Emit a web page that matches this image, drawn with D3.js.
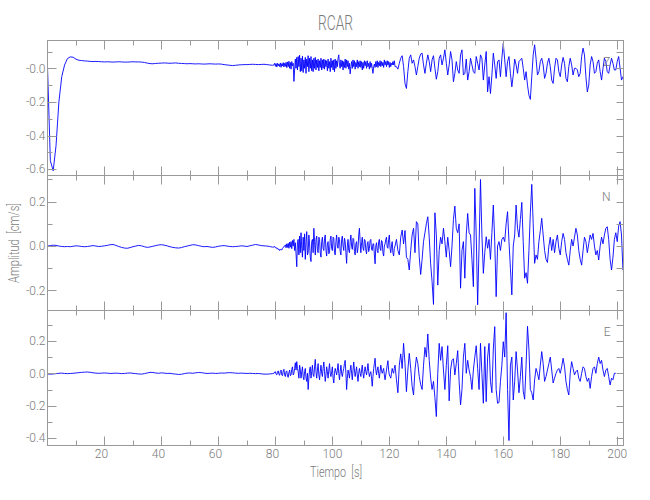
<!DOCTYPE html>
<html><head><meta charset="utf-8">
<script src="https://cdn.jsdelivr.net/npm/d3@7"></script>
<style>body{margin:0;background:#fff}</style>
</head><body><svg id="c" width="650" height="500"></svg>
<script>
const titleText = "RCAR";
const xLabelText = "Tiempo  [s]";
const yLabelText = "Amplitud  [cm/s]";
const components = ["Z", "N", "E"];
const timeDomain = [0, 202.2];
const xMajorTicks = [20, 40, 60, 80, 100, 120, 140, 160, 180, 200];
const xMinorTicks = [10, 30, 50, 70, 90, 110, 130, 150, 170, 190];
const yDomains = [[-0.638, 0.1655], [-0.2905, 0.318], [-0.4457, 0.3877]];
const yMajorTicks = [[0, -0.2, -0.4, -0.6], [0.2, 0, -0.2], [0.2, 0, -0.2, -0.4]];
const yMinorTicks = [[0.1, -0.1, -0.3, -0.5], [0.3, 0.1, -0.1], [0.3, 0.1, -0.1, -0.3]];
const yTickLabels = [["-0.0", "-0.2", "-0.4", "-0.6"], ["0.2", "0.0", "-0.2"], ["0.2", "0.0", "-0.2", "-0.4"]];

// sampling: quiet t = 0..79 (1 s); dense t = 79.5..122 (0.25 s); coda t = 122.5.. (0.5 s)
const quietStart = 0, quietStep = 1;
const denseStart = 79.5, denseStep = 0.25;
const codaStart = 122.5, codaStep = 0.5;

const zQuiet = [
0.01,-0.55,-0.61,-0.46,-0.2,-0.05,0.02,0.058,0.068,0.066,
0.054,0.048,0.046,0.044,0.043,0.041,0.04,0.041,0.04,0.039,
0.038,0.039,0.038,0.037,0.038,0.039,0.038,0.037,0.037,0.038,
0.039,0.038,0.038,0.037,0.035,0.031,0.028,0.027,0.029,0.03,
0.031,0.032,0.031,0.03,0.031,0.032,0.03,0.029,0.028,0.027,
0.028,0.027,0.026,0.027,0.026,0.025,0.026,0.027,0.026,0.025,
0.026,0.025,0.022,0.02,0.018,0.016,0.018,0.02,0.021,0.022,
0.022,0.023,0.024,0.023,0.022,0.023,0.024,0.022,0.02,0.018];
const zDense = [
0.02,0.03,0.012,0.028,0.008,0.03,0.015,0.026,
0.01,0.032,0.006,0.028,0.014,0.034,0.008,0.03,
0.012,0.036,0.004,0.038,0.01,0.042,0.0,0.035,
-0.005,0.04,0.015,0.03,-0.078,-0.01,0.055,0.0,
0.065,-0.01,0.07,0.01,0.078,-0.02,0.06,-0.015,
0.072,-0.025,0.05,0.0,0.065,-0.03,0.055,0.01,
0.075,-0.02,0.06,0.0,0.07,-0.015,0.05,-0.02,
0.06,0.0,0.065,-0.01,0.05,0.005,0.055,-0.015,
0.045,0.005,0.06,-0.01,0.05,0.0,0.055,-0.005,
0.05,0.01,0.045,-0.015,0.055,0.0,0.04,-0.02,
0.06,0.005,0.045,-0.01,0.05,-0.02,0.055,0.0,
0.045,0.01,0.06,0.08,0.02,0.0,0.05,0.01,
0.045,-0.01,0.04,0.005,0.055,0.0,0.05,0.01,
0.045,-0.005,0.03,-0.033,0.01,0.04,0.0,0.05,
0.01,0.045,-0.005,0.035,0.01,0.05,0.0,0.04,
0.01,0.045,0.005,0.04,-0.01,0.035,0.0,0.045,
0.015,0.04,0.0,0.045,0.01,0.03,-0.005,0.04,
0.005,0.03,0.0,-0.03,0.01,0.025,0.005,0.04,
0.01,0.045,0.005,0.035,0.015,0.045,0.01,0.04,
0.015,0.035,0.005,0.05,0.02,0.04,0.01,0.045,
0.02,0.04,0.005,0.035,0.01,0.03,0.02,0.04,
0.02,0.045,0.01];
const zCoda = [
0.01,-0.005,0.03,0.06,
0.075,0.01,-0.09,-0.12,-0.02,0.06,0.08,0.03,0.05,0.01,
-0.04,0.01,0.06,0.085,0.09,0.02,-0.03,0.03,0.08,0.04,
-0.02,0.05,0.075,0.0,-0.065,-0.02,0.06,0.08,0.02,0.06,
0.11,0.03,-0.04,0.02,0.1,0.05,-0.08,-0.03,0.04,-0.01,
-0.03,0.08,0.11,-0.04,-0.03,0.055,-0.07,-0.02,0.06,0.02,
-0.02,-0.03,0.07,0.03,-0.01,0.08,0.06,-0.07,0.02,0.1,
-0.14,-0.05,-0.15,-0.04,0.09,0.02,-0.06,0.04,0.05,-0.05,
0.06,0.149,0.05,-0.05,0.04,0.07,-0.03,-0.11,-0.04,0.055,
0.02,-0.03,0.04,0.05,0.06,0.0,-0.07,-0.02,-0.1,-0.16,
-0.185,-0.05,0.08,0.14,0.06,-0.04,-0.02,0.04,0.06,0.02,
-0.06,-0.03,0.03,0.06,0.01,-0.07,-0.09,0.0,0.06,0.05,
-0.02,-0.05,0.02,0.065,0.03,-0.06,-0.08,0.01,0.06,0.02,
-0.04,0.0,0.0,-0.01,-0.05,-0.03,0.07,0.12,0.08,-0.05,
-0.14,-0.1,0.02,0.07,0.04,-0.03,-0.02,0.03,0.05,-0.02,
-0.07,0.0,0.06,0.04,-0.02,-0.03,0.02,0.06,0.03,-0.01,
-0.01,0.04,0.07,0.0,-0.07,-0.05,-0.05];

const nQuiet = [
0.0,0.002,0.004,0.003,0.0,-0.002,-0.003,-0.002,-0.003,-0.001,
0.001,0.0,-0.002,-0.003,-0.002,0.0,0.002,0.0,-0.002,-0.001,
0.001,0.003,0.006,0.007,0.003,-0.002,-0.006,-0.009,-0.01,-0.007,
-0.003,0.0,0.003,0.001,-0.003,-0.006,-0.004,-0.001,0.002,0.005,
0.006,0.004,0.001,-0.003,-0.006,-0.008,-0.009,-0.007,-0.003,0.0,
0.003,0.006,0.005,0.002,-0.001,-0.003,-0.002,-0.004,-0.006,-0.004,
-0.001,0.001,0.002,0.0,-0.002,-0.003,-0.002,-0.001,0.001,0.0,
-0.002,0.001,0.004,0.007,0.005,0.002,0.001,0.0,-0.002,-0.005];
const nDense = [
-0.004,-0.002,-0.008,-0.006,-0.012,-0.01,-0.016,-0.013,
-0.02,-0.016,-0.015,-0.018,-0.01,-0.006,-0.004,0.002,
0.005,-0.008,0.01,-0.006,0.012,-0.01,0.018,-0.005,
0.02,-0.012,0.025,0.0,0.03,-0.02,0.015,-0.035,
-0.093,0.02,0.03,-0.04,0.045,-0.03,0.06,-0.01,
-0.05,0.04,-0.02,0.055,-0.06,0.02,0.065,-0.04,
-0.03,0.05,0.01,-0.05,-0.07,0.02,0.03,-0.03,
0.08,0.02,-0.04,0.03,0.045,-0.02,-0.03,0.04,
0.03,-0.03,-0.05,0.02,0.04,-0.01,-0.02,0.035,
0.05,-0.02,-0.045,0.01,0.02,-0.035,-0.03,0.03,
0.045,-0.01,-0.02,0.04,0.035,-0.03,-0.04,0.02,
0.05,0.0,-0.01,0.04,0.03,-0.025,-0.04,0.03,
0.045,0.0,-0.02,0.035,0.02,-0.03,-0.078,0.0,
0.03,-0.02,-0.03,0.02,0.05,0.0,-0.015,0.035,
0.03,-0.025,-0.04,0.01,0.02,-0.03,-0.01,0.05,
0.08,0.02,-0.03,0.015,0.04,-0.01,-0.02,0.03,
0.025,-0.02,-0.035,0.01,0.02,-0.025,-0.01,0.025,
0.03,-0.015,-0.02,0.01,0.01,-0.04,-0.08,0.0,
0.015,-0.02,-0.03,0.02,0.03,-0.01,-0.02,0.025,
0.02,-0.03,-0.045,0.0,0.01,0.03,0.04,-0.005,
-0.01,0.03,0.05,-0.01,-0.03,0.0,0.02,-0.03,
-0.045,-0.01,0.0];
const nCoda = [
0.03,-0.02,-0.04,0.04,
0.072,0.01,0.07,-0.05,-0.06,-0.108,-0.02,0.05,0.08,-0.03,
0.11,0.1,-0.05,-0.128,-0.06,0.02,0.06,0.1,0.132,0.04,
-0.08,-0.16,-0.263,0.15,0.05,-0.176,-0.02,0.04,0.01,0.08,
0.02,-0.05,0.04,-0.02,-0.093,0.0,0.12,0.18,0.08,0.06,
0.1,-0.19,-0.02,0.02,-0.145,0.05,0.147,0.06,0.05,-0.06,
-0.183,0.26,0.05,-0.265,0.0,0.30,0.05,-0.123,-0.03,0.042,
-0.01,0.03,-0.06,0.06,0.185,0.02,-0.228,0.0,0.02,-0.02,
0.03,0.04,0.02,0.1,0.155,0.02,-0.1,-0.22,0.0,0.05,
0.185,0.08,0.04,0.12,0.197,0.02,-0.145,-0.12,-0.168,-0.02,
0.15,0.278,0.1,-0.078,-0.04,-0.06,0.02,0.07,0.125,0.05,
-0.02,-0.06,-0.074,0.0,0.04,-0.02,0.03,-0.03,0.02,0.05,
-0.01,-0.04,0.02,0.057,0.03,-0.03,-0.06,-0.086,-0.02,0.03,
0.0,0.04,0.08,0.05,-0.02,-0.06,-0.086,-0.02,0.04,0.02,
-0.03,0.01,0.05,0.03,0.057,0.0,-0.04,-0.02,-0.063,0.0,
0.04,0.01,0.05,0.08,0.087,0.03,-0.06,-0.108,-0.05,0.03,
0.06,0.02,0.09,0.11,0.05,-0.108,-0.1];

const eQuiet = [
-0.004,-0.005,-0.004,-0.002,0.0,0.001,-0.001,-0.002,-0.001,0.0,
0.002,0.004,0.006,0.007,0.008,0.006,0.003,0.001,0.0,0.001,
0.002,0.001,-0.001,0.0,0.001,0.0,-0.002,-0.001,0.001,0.002,
0.0,-0.002,-0.004,-0.005,-0.002,0.002,0.006,0.005,0.002,0.0,
0.003,0.001,-0.001,0.0,-0.003,-0.005,-0.007,-0.006,-0.002,0.001,
0.002,0.0,0.003,0.005,0.004,0.001,-0.001,0.0,0.001,-0.001,
0.0,0.002,0.001,0.003,0.004,0.003,0.001,0.0,0.001,0.0,
-0.001,0.0,-0.001,-0.002,-0.001,-0.003,-0.005,-0.005,-0.004,-0.002];
const eDense = [
0.0,0.008,0.01,-0.006,-0.01,0.01,0.015,-0.008,
-0.012,0.012,0.02,-0.01,-0.015,0.015,0.025,-0.01,
-0.02,0.01,0.015,-0.018,-0.025,0.005,0.02,-0.015,
-0.01,0.025,0.04,-0.01,0.0,0.03,0.065,0.02,
0.072,0.03,0.01,-0.03,0.05,0.02,-0.03,0.01,
0.04,-0.02,-0.04,0.01,0.03,-0.03,-0.05,0.0,
-0.1,-0.03,0.02,0.04,-0.03,0.01,0.05,-0.01,
-0.02,0.04,0.086,0.01,-0.03,0.02,0.06,-0.01,
-0.04,0.01,0.05,0.0,-0.02,0.03,0.07,0.01,
-0.05,-0.01,0.04,0.01,-0.03,0.02,0.06,0.0,
-0.02,0.01,0.04,-0.03,-0.06,0.0,0.03,0.01,
-0.01,0.02,0.06,0.0,-0.04,0.01,0.05,0.0,
-0.02,0.01,0.03,0.06,0.08,0.0,-0.1,-0.03,
0.02,0.0,-0.03,0.02,0.05,0.0,-0.04,0.02,
0.07,0.02,-0.02,0.01,0.04,-0.01,-0.05,0.0,
0.03,0.0,-0.02,0.02,0.05,0.0,-0.03,0.01,
0.04,0.01,-0.01,0.02,0.06,0.01,-0.02,0.0,
0.01,-0.03,-0.08,-0.02,0.03,0.06,0.093,0.02,
-0.01,0.02,0.04,0.0,-0.03,0.01,0.05,0.02,
0.0,0.015,0.03,-0.01,-0.04,-0.01,0.02,0.05,
0.078,0.02,-0.01,-0.02,-0.03,0.0,0.03,0.01,
0.0,0.03,0.05];
const eCoda = [
-0.04,-0.12,0.05,0.12,
0.03,0.185,0.06,-0.113,0.02,0.123,0.03,-0.08,-0.134,0.02,
0.1,0.06,-0.02,-0.07,-0.1,0.05,0.16,0.1,0.243,0.08,
-0.03,-0.1,-0.05,-0.15,-0.267,0.0,0.185,0.08,0.165,0.02,
-0.1,0.05,0.17,-0.17,0.02,0.08,0.09,-0.01,0.06,0.14,
-0.05,-0.195,-0.1,0.1,0.185,0.0,0.08,0.02,-0.02,-0.1,
0.02,0.1,0.17,0.03,-0.1,0.185,0.0,-0.185,0.165,-0.175,
0.1,0.185,-0.05,-0.12,0.15,0.288,-0.1,-0.185,-0.18,-0.05,
0.05,0.195,0.1,0.374,-0.1,-0.415,0.05,0.1,-0.165,-0.05,
0.134,0.02,-0.12,-0.02,0.1,-0.11,-0.16,0.05,0.29,0.15,
-0.1,-0.12,-0.165,-0.04,0.03,0.0,-0.04,0.05,0.134,0.06,
-0.05,-0.02,0.02,0.06,0.1,0.02,-0.06,-0.03,0.0,0.02,
0.03,0.0,0.04,0.093,0.04,-0.05,-0.1,-0.134,0.0,0.072,
0.03,-0.01,0.01,0.02,-0.03,-0.05,0.0,0.04,0.03,-0.02,
-0.05,-0.03,-0.093,-0.02,0.03,0.04,0.0,0.06,0.1,0.06,
0.08,0.02,-0.02,0.02,0.03,-0.02,-0.072,-0.03,-0.04,0.0,
0.0];

const quietSeries = [zQuiet, nQuiet, eQuiet];
const denseSeries = [zDense, nDense, eDense];
const codaSeries = [zCoda, nCoda, eCoda];

// ---- drawing ----
const svg = d3.select("#c");
const X0 = 47.5, X1 = 623.5;
const panelTops = [40.5, 175.5, 310.5];
const panelH = 135;
const axisColor = "#999999", textColor = "#7a7a7a", lineColor = "#0000ff";
const font = "Roboto, 'Liberation Sans', sans-serif";
const fw = 300;

const x = d3.scaleLinear().domain(timeDomain).range([X0, X1]);

svg.append("defs").selectAll("clipPath").data(panelTops).join("clipPath")
  .attr("id", (d, i) => "clip" + i)
  .append("rect").attr("x", X0).attr("y", d => d).attr("width", X1 - X0).attr("height", panelH);

const toPoints = (arr, start, step) => arr.map((v, i) => [start + i * step, v]);

components.forEach((comp, p) => {
  const top = panelTops[p], bot = top + panelH;
  const y = d3.scaleLinear().domain(yDomains[p]).range([bot, top]);
  const g = svg.append("g");

  const data = toPoints(quietSeries[p], quietStart, quietStep)
    .concat(toPoints(denseSeries[p], denseStart, denseStep))
    .concat(toPoints(codaSeries[p], codaStart, codaStep));
  const line = d3.line().x(d => x(d[0])).y(d => y(d[1]));
  g.append("path").datum(data)
    .attr("clip-path", `url(#clip${p})`)
    .attr("d", line).attr("fill", "none")
    .attr("stroke", lineColor).attr("stroke-width", 0.9).attr("stroke-linejoin", "round");

  g.append("rect").attr("x", X0).attr("y", top).attr("width", X1 - X0).attr("height", panelH)
    .attr("fill", "none").attr("stroke", axisColor).attr("stroke-width", 1);

  const yt = yMajorTicks[p].map(v => [v, 9]).concat(yMinorTicks[p].map(v => [v, 5]));
  yt.forEach(([v, len]) => {
    const yy = Math.round(y(v)) + 0.5;
    g.append("line").attr("x1", X0).attr("x2", X0 + len).attr("y1", yy).attr("y2", yy).attr("stroke", axisColor);
    g.append("line").attr("x1", X1).attr("x2", X1 - 7).attr("y1", yy).attr("y2", yy).attr("stroke", axisColor);
  });
  yMajorTicks[p].forEach((v, i) => {
    g.append("text").attr("x", 45.5).attr("y", y(v)).attr("dy", "0.36em")
      .attr("text-anchor", "end").attr("font-family", font).attr("font-size", 12)
      .attr("font-weight", fw).attr("fill", textColor).text(yTickLabels[p][i]);
  });

  const xt = xMajorTicks.map(v => [v, 9]).concat(xMinorTicks.map(v => [v, 5]));
  xt.forEach(([v, len]) => {
    const xx = Math.round(x(v)) + 0.5;
    g.append("line").attr("x1", xx).attr("x2", xx).attr("y1", top).attr("y2", top + len).attr("stroke", axisColor);
    g.append("line").attr("x1", xx).attr("x2", xx).attr("y1", bot).attr("y2", bot - len).attr("stroke", axisColor);
  });

  g.append("text").attr("x", 610.5).attr("y", top + 25).attr("text-anchor", "end")
    .attr("font-family", font).attr("font-size", 12).attr("font-weight", fw)
    .attr("fill", textColor).text(comp);
});

const bottomY = panelTops[2] + panelH;
xMajorTicks.forEach(v => {
  svg.append("text").attr("x", x(v) + (v < 100 ? -3 : 0)).attr("y", bottomY + 12.5)
    .attr("text-anchor", "middle").attr("font-family", font).attr("font-size", 12)
    .attr("font-weight", fw).attr("fill", textColor).text(v);
});

svg.append("text").attr("x", 335.5).attr("y", 30).attr("text-anchor", "middle")
  .attr("font-family", font).attr("font-size", 21).attr("font-weight", fw).attr("fill", textColor)
  .attr("textLength", 35).attr("lengthAdjust", "spacingAndGlyphs").text(titleText);
svg.append("text").attr("x", 336).attr("y", 476.5).attr("text-anchor", "middle")
  .attr("font-family", font).attr("font-size", 15).attr("font-weight", fw).attr("fill", textColor)
  .attr("textLength", 52).attr("lengthAdjust", "spacingAndGlyphs")
  .style("white-space", "pre").text(xLabelText);
svg.append("text").attr("transform", "translate(18.5,243) rotate(-90)").attr("text-anchor", "middle")
  .attr("font-family", font).attr("font-size", 14).attr("font-weight", fw).attr("fill", textColor)
  .attr("textLength", 80).attr("lengthAdjust", "spacingAndGlyphs")
  .style("white-space", "pre").text(yLabelText);
</script>
</body></html>
